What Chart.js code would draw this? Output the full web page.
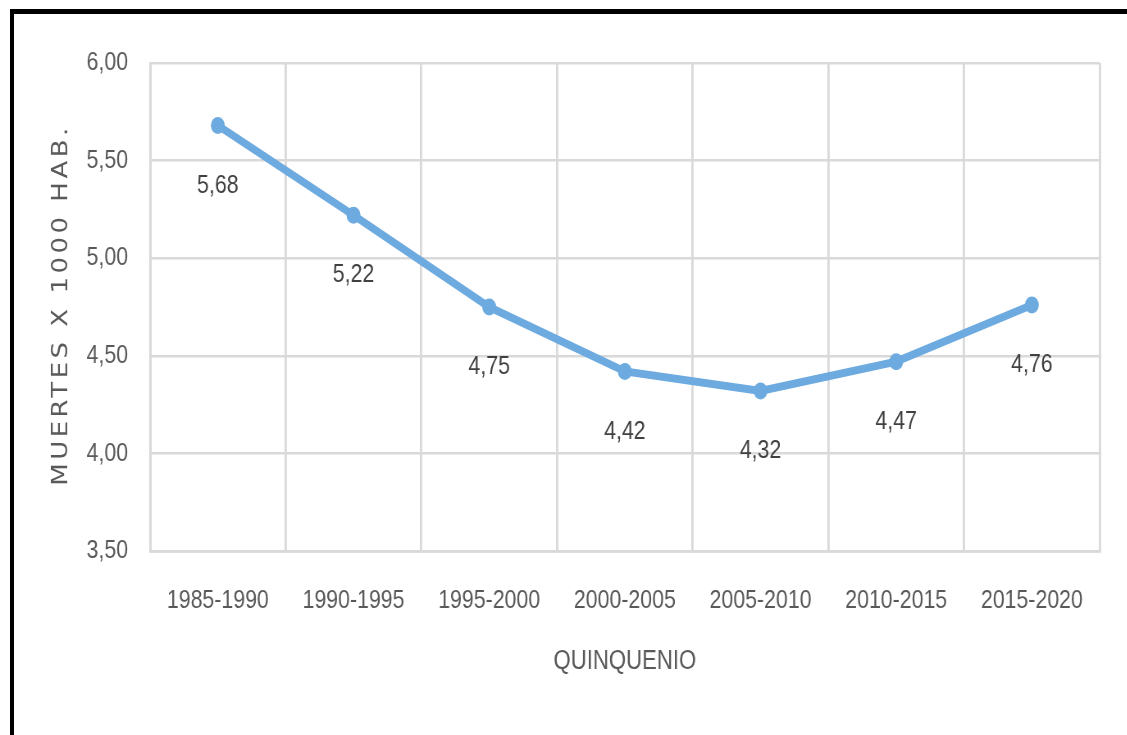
<!DOCTYPE html>
<html>
<head>
<meta charset="utf-8">
<script src="https://cdn.jsdelivr.net/npm/chart.js@4/dist/chart.umd.min.js"></script>
<style>
  html, body { margin: 0; padding: 0; background: #fff; overflow: hidden; }
  #wrap { position: relative; width: 1127px; height: 735px; overflow: hidden; }
  #frame { position: absolute; left: 10px; top: 9px; right: 0; bottom: 0;
           border-top: 5px solid #000; border-left: 4px solid #000; pointer-events: none; }
  canvas { position: absolute; left: 0; top: 0; transform: scaleX(0.82); transform-origin: 0 0; }
</style>
</head>
<body>
<div id="wrap">
  <canvas id="c" width="1374" height="735"></canvas>
  <div id="frame"></div>
</div>
<script>
const categories = ['1985-1990', '1990-1995', '1995-2000', '2000-2005', '2005-2010', '2010-2015', '2015-2020'];
const deaths = [5.68, 5.22, 4.75, 4.42, 4.32, 4.47, 4.76];
const yTickValues = [3.50, 4.00, 4.50, 5.00, 5.50, 6.00];
const xTitle = 'QUINQUENIO';
const yTitle = 'MUERTES X 1000 HAB.';

const SQ = 0.82; // horizontal squash applied by CSS
const FONT = "'Liberation Sans', Arial, sans-serif";
const fmt = v => Number(v).toFixed(2).replace('.', ',');

const dataLabels = {
  id: 'dataLabels',
  afterDatasetsDraw(chart) {
    const ctx = chart.ctx;
    const meta = chart.getDatasetMeta(0);
    ctx.save();
    ctx.font = "26px " + FONT;
    ctx.fillStyle = '#404040';
    ctx.textAlign = 'center';
    ctx.textBaseline = 'middle';
    meta.data.forEach((pt, i) => {
      ctx.fillText(fmt(chart.data.datasets[0].data[i]), pt.x, pt.y + 60);
    });
    ctx.restore();
  }
};

const yTitlePlugin = {
  id: 'yTitlePlugin',
  afterDraw(chart) {
    const ctx = chart.ctx;
    const area = chart.chartArea;
    ctx.save();
    ctx.translate(62 / SQ, (area.top + area.bottom) / 2);
    ctx.rotate(-Math.PI / 2);
    ctx.font = "26px 'DejaVu Sans', sans-serif";
    ctx.letterSpacing = '3.5px';
    ctx.fillStyle = '#595959';
    ctx.textAlign = 'center';
    ctx.textBaseline = 'middle';
    ctx.fillText(yTitle, 2, 0);
    ctx.restore();
  }
};

new Chart(document.getElementById('c'), {
  type: 'line',
  data: {
    labels: categories,
    datasets: [{
      data: deaths,
      borderColor: '#6caadf',
      backgroundColor: '#6caadf',
      borderWidth: 8,
      pointRadius: 8.5,
      pointHoverRadius: 8.5,
      pointBorderWidth: 0,
      tension: 0,
      fill: false
    }]
  },
  options: {
    responsive: false,
    animation: false,
    devicePixelRatio: 1,
    layout: { padding: { left: 0, right: 27 / SQ, top: 63, bottom: 0 } },
    plugins: { legend: { display: false }, tooltip: { enabled: false } },
    scales: {
      x: {
        type: 'category',
        offset: true,
        grid: { offset: true, color: '#d9d9d9', lineWidth: 2.8, drawTicks: false },
        border: { display: true, color: '#d9d9d9', width: 2.8 },
        ticks: { color: '#595959', font: { family: FONT, size: 26 }, padding: 34, maxRotation: 0, autoSkip: false },
        title: { display: true, text: xTitle, color: '#595959', font: { family: FONT, size: 27 }, padding: { top: 0, bottom: 57 } },
        afterFit(scale) { scale.height = 735 - 551; }
      },
      y: {
        min: 3.5,
        max: 6,
        afterBuildTicks(scale) { scale.ticks = yTickValues.map(v => ({ value: v })); },
        grid: { color: '#d9d9d9', lineWidth: 2.5, drawTicks: false },
        border: { display: true, color: '#d9d9d9', width: 2.8 },
        ticks: { color: '#595959', font: { family: FONT, size: 26 }, padding: 22 / SQ, callback: v => fmt(v) },
        afterFit(scale) { scale.width = 150 / SQ; }
      }
    }
  },
  plugins: [dataLabels, yTitlePlugin]
});
</script>
</body>
</html>
